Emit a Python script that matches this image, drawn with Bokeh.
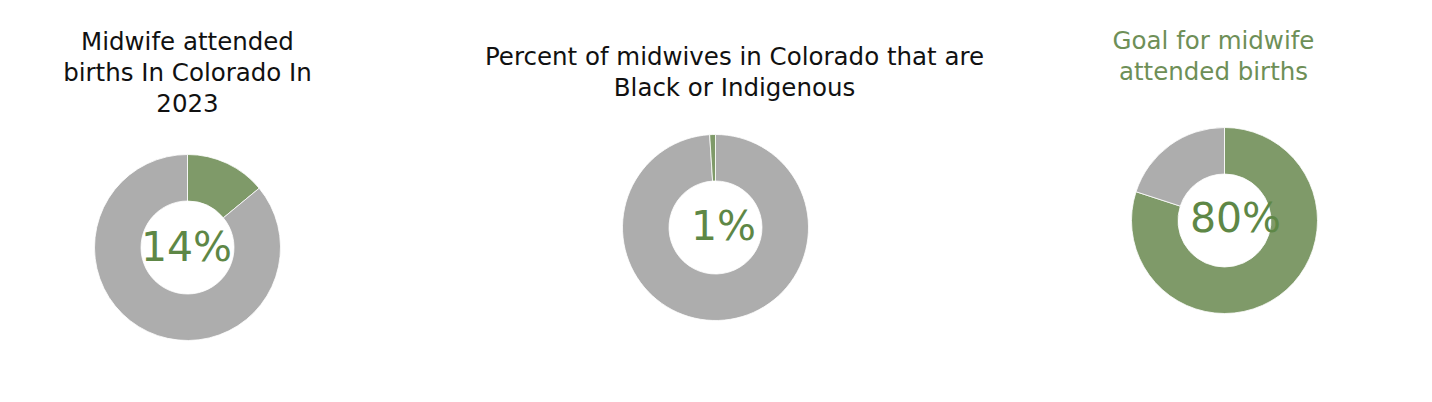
import math
from bokeh.plotting import figure
from bokeh.models import Range1d, ColumnDataSource
from bokeh.core.properties import value
from bokeh.embed import file_html
from bokeh.resources import INLINE

# ---- data ----
titles = [
    ["Midwife attended", "births In Colorado In", "2023"],
    ["Percent of midwives in Colorado that are", "Black or Indigenous"],
    ["Goal for midwife", "attended births"],
]
labels = ["14%", "1%", "80%"]
# slices per chart, in drawing order (clockwise from 12 o'clock)
slice_values = [[14, 86], [99, 1], [80, 20]]
slice_kinds = [["green", "gray"], ["gray", "green"], ["green", "gray"]]

# ---- layout / style ----
W, H = 1416, 386
GREEN = "#7f9a69"
GRAY = "#adadad"
TEXT_GREEN = "#5e8746"
title_colors = ["#111111", "#111111", "#6e8f57"]
centers = [(179, 147), (707, 167), (1216, 174)]
label_pos = [(178, 148), (715, 169), (1227, 177)]
title_x = [179, 726, 1205]
title_y0 = [353, 338, 354]
line_gap = 30.5
R_OUT, R_IN = 93, 46.5
FONT = "DejaVu Sans"

p = figure(width=W, height=H, output_backend="svg", toolbar_location=None,
           x_range=Range1d(-8, W - 8), y_range=Range1d(8, H + 8), min_border=0)
p.axis.visible = False
p.grid.visible = False
p.outline_line_color = None
p.background_fill_color = "white"
p.border_fill_color = "white"

for i in range(3):
    cx, cy = centers[i]
    vals = slice_values[i]
    tot = sum(vals)
    starts, ends, cols = [], [], []
    a = math.pi / 2
    for v, k in zip(vals, slice_kinds[i]):
        b = a - 2 * math.pi * v / tot
        starts.append(b)
        ends.append(a)
        cols.append(GREEN if k == "green" else GRAY)
        a = b
    src = ColumnDataSource(dict(x=[cx] * len(vals), y=[cy] * len(vals),
                                s=starts, e=ends, c=cols))
    p.annular_wedge(x="x", y="y", inner_radius=R_IN, outer_radius=R_OUT,
                    start_angle="s", end_angle="e", fill_color="c",
                    line_color="white", line_width=0.8, source=src)
    # center label
    lx, ly = label_pos[i]
    p.text(x=[lx], y=[ly], text=[labels[i]], text_align="center",
           text_baseline="middle", text_font=value(FONT),
           text_font_size="41px", text_color=TEXT_GREEN)
    # title
    n = len(titles[i])
    p.text(x=[title_x[i]] * n,
           y=[title_y0[i] - j * line_gap for j in range(n)],
           text=titles[i], text_align="center", text_baseline="middle",
           text_font=value(FONT), text_font_size="24.5px",
           text_color=title_colors[i])

open("out.html", "w").write(file_html(p, INLINE))
